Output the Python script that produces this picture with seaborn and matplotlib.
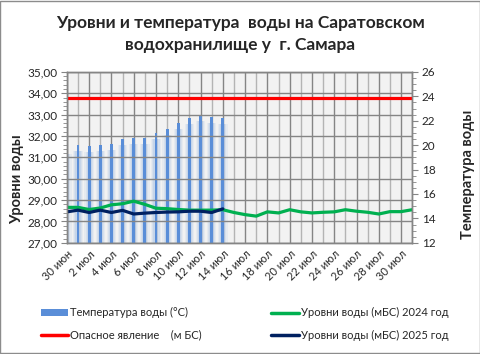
import numpy as np
import pandas as pd
import matplotlib
matplotlib.use("Agg")
import matplotlib.pyplot as plt
import seaborn as sns
from matplotlib.patches import Patch, Rectangle
from matplotlib.lines import Line2D
from matplotlib.ticker import MultipleLocator

# --- data ---
dates = pd.date_range("2025-06-30", "2025-07-31", freq="D")
tick_labels = ["30 июн", "2 июл", "4 июл", "6 июл", "8 июл", "10 июл", "12 июл", "14 июл",
               "16 июл", "18 июл", "20 июл", "22 июл", "24 июл", "26 июл", "28 июл", "30 июл"]

temp_2025 = [19.8, 20.0, 19.9, 20.0, 20.1, 20.5, 20.6, 20.6, 21.0, 21.3,
             21.8, 22.2, 22.5, 22.3, 22.2]
level_2024 = [28.66, 28.66, 28.56, 28.63, 28.78, 28.83, 28.95, 28.80, 28.62, 28.60,
              28.56, 28.53, 28.53, 28.53, 28.55, 28.42, 28.32, 28.25, 28.45, 28.40,
              28.55, 28.45, 28.40, 28.43, 28.45, 28.55, 28.48, 28.43, 28.35, 28.46,
              28.46, 28.55]
level_2025 = [28.45, 28.53, 28.42, 28.53, 28.42, 28.52, 28.35, 28.39, 28.42, 28.44,
              28.45, 28.48, 28.48, 28.42, 28.59]
danger_level = [33.8] * len(dates)

BLUE = "#5A8ED8"
GREEN = "#00B050"
RED = "#FF0000"
NAVY = "#002060"

sns.set_style("white")
plt.rcParams["font.family"] = ["Lato", "DejaVu Sans"]

day = (dates - dates[0]).days.to_numpy()
df24 = pd.DataFrame({"day": day, "level": level_2024, "danger": danger_level})
df25 = pd.DataFrame({"day": day[:len(level_2025)], "level": level_2025,
                     "temp": temp_2025})

fig = plt.figure(figsize=(4.81, 3.54), dpi=100)
ax = fig.add_axes([0.139, 0.314, 0.718, 0.483])   # temperature bars (right scale)
ax2 = ax.twinx()                                  # water levels (left scale)

ax.set_facecolor("#F2F2F2")

# bars with a soft glow, roughly like the excel gradient fill
for w, a in [(0.85, 0.08), (0.65, 0.10), (0.45, 0.13)]:
    ax.bar(df25["day"], df25["temp"] - 0.5, width=w, color=BLUE, alpha=a,
           linewidth=0, zorder=2)
ax.bar(df25["day"], df25["temp"], width=0.25, color=BLUE, linewidth=0, zorder=3)

ax.set_ylim(12, 26)
ax.yaxis.tick_right()
ax.yaxis.set_label_position("right")
ax.yaxis.set_major_locator(MultipleLocator(2))
ax.yaxis.set_minor_locator(MultipleLocator(0.5))
ax.set_xlim(0, 31)
ax.set_xticks(day[::2])
ax.set_xticks(day[1::2], minor=True)
ax.set_xticklabels(tick_labels, rotation=45, ha="right", rotation_mode="anchor",
                   fontsize=8)
ax.grid(axis="x", which="major", color="#858585", linewidth=1, zorder=0)
ax.grid(axis="x", which="minor", color="#B4B4B4", linewidth=1, zorder=0)
ax.set_axisbelow(True)
ax.tick_params(axis="y", which="major", length=4, color="#858585", labelsize=8.5,
               pad=3, right=True, left=False)
ax.tick_params(axis="y", which="minor", length=3, color="#858585", right=True, left=False)
ax.tick_params(axis="x", which="both", length=3, color="#858585", pad=1)
ax.set_ylabel("Температура воды", fontsize=10.5, fontweight="bold")
ax.yaxis.set_label_coords(1.14, 0.40)

# lines on the left scale
sns.lineplot(data=df24, x="day", y="danger", ax=ax2, color=RED, linewidth=2.3)
sns.lineplot(data=df24, x="day", y="level", ax=ax2, color=GREEN, linewidth=2.3)
sns.lineplot(data=df25, x="day", y="level", ax=ax2, color=NAVY, linewidth=2.3)

ax2.set_ylim(27, 35)
ax2.yaxis.tick_left()
ax2.yaxis.set_label_position("left")
ax2.yaxis.set_major_locator(MultipleLocator(1))
ax2.yaxis.set_minor_locator(MultipleLocator(0.2))
ax2.yaxis.set_major_formatter(lambda v, p: f"{v:.2f}".replace(".", ","))
ax2.grid(axis="y", which="major", color="#858585", linewidth=1)
ax2.tick_params(axis="y", which="major", length=4, color="#858585", labelsize=8.5,
                pad=3, left=True, right=False)
ax2.tick_params(axis="y", which="minor", length=3, color="#858585", left=True, right=False)
ax2.set_ylabel("Уровни воды", fontsize=10.5, fontweight="bold")
ax2.yaxis.set_label_coords(-0.125, 0.37)
ax2.set_xlabel("")
ax.set_xlabel("")

for a in (ax, ax2):
    for s in a.spines.values():
        s.set_color("#858585")
        s.set_linewidth(1)

fig.text(0.5, 0.905, "Уровни и температура  воды на Саратовском\nводохранилище у  г. Самара",
         ha="center", va="center", fontsize=12.5, fontweight="bold", linespacing=1.45)

handles = [Patch(facecolor=BLUE, edgecolor="none"),
           Line2D([], [], color=RED, linewidth=2.5),
           Line2D([], [], color=GREEN, linewidth=2.5),
           Line2D([], [], color=NAVY, linewidth=2.5)]
labels = ["Температура воды (°С)", "Опасное явление    (м БС)",
          "Уровни воды (мБС) 2024 год", "Уровни воды (мБС) 2025 год"]
fig.legend(handles, labels, ncol=2, loc="center left", bbox_to_anchor=(0.064, 0.085),
           frameon=False, fontsize=8, handlelength=2.45, handleheight=0.6,
           handletextpad=0.2, columnspacing=6.25, labelspacing=1.0)

fig.patches.append(Rectangle((0.001, 0.002), 0.997, 0.996, transform=fig.transFigure,
                             fill=False, edgecolor="#8C8C8C", linewidth=1))

fig.savefig("out.png", dpi=100)
